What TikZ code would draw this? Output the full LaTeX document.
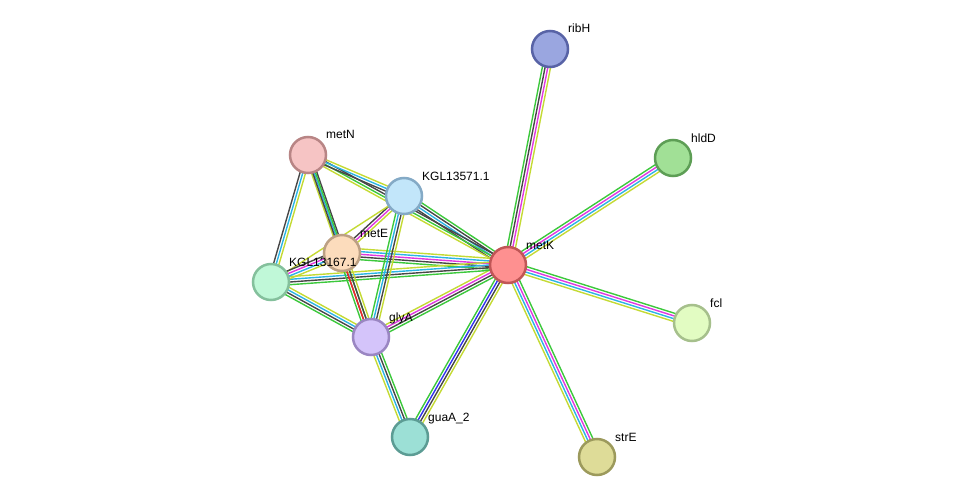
\documentclass[tikz,border=0pt]{standalone}
\usepackage{fontspec}
\setmainfont{Liberation Sans}
\usetikzlibrary{calc}
\pgfdeclarelayer{bg}
\pgfsetlayers{bg,main}
% evidence channels
\definecolor{cnb}{HTML}{3CC83C}
\definecolor{cfu}{HTML}{F02828}
\definecolor{cco}{HTML}{3232F0}
\definecolor{cex}{HTML}{E038E0}
\definecolor{cdb}{HTML}{2CB4E4}
\definecolor{ctm}{HTML}{C4DA34}
\definecolor{ccx}{HTML}{474747}
% gene fills and rims
\definecolor{ribHf}{HTML}{9AA6E0}\definecolor{ribHd}{HTML}{5863A6}
\definecolor{hldDf}{HTML}{A1E096}\definecolor{hldDd}{HTML}{5D9E55}
\definecolor{metNf}{HTML}{F6C4C4}\definecolor{metNd}{HTML}{B88585}
\definecolor{kglAf}{HTML}{C2E6FA}\definecolor{kglAd}{HTML}{84AAC6}
\definecolor{metEf}{HTML}{FCDCBC}\definecolor{metEd}{HTML}{BCA084}
\definecolor{metKf}{HTML}{FE9090}\definecolor{metKd}{HTML}{C05656}
\definecolor{kglBf}{HTML}{C0F8D8}\definecolor{kglBd}{HTML}{84C09C}
\definecolor{glyAf}{HTML}{D4C4FA}\definecolor{glyAd}{HTML}{9A86C2}
\definecolor{fclf}{HTML}{E2FCC2}\definecolor{fcld}{HTML}{A6C08C}
\definecolor{guaAf}{HTML}{9CE0D6}\definecolor{guaAd}{HTML}{5C9C94}
\definecolor{strEf}{HTML}{DEDC98}\definecolor{strEd}{HTML}{9C9A5C}
\tikzset{
  gene/.style={circle,minimum size=36pt,inner sep=0pt,line width=2.5pt,fill=#1f,draw=#1d},
  ppline/.style={line width=1.4pt},
  lbl/.style={anchor=base west,inner sep=0pt,font=\fontsize{12}{14}\selectfont}
}
\newcommand\ppedge[3]{%
  \foreach \c [count=\i] in {#3}{\xdef\nlines{\i}}%
  \foreach \c [count=\i] in {#3}{%
    \pgfmathsetmacro\off{((\nlines+1)/2-\i)*2.7}%
    \draw[ppline,\c] ($(#1)!\off pt!90:(#2)$) -- ($(#2)!\off pt!-90:(#1)$);}}
\newcommand\genelabel[2]{%
  \node[lbl] (#1-lbl) at ([shift={(18,-16)}]#1.center) {#2};}
\begin{document}
\begin{tikzpicture}[x=1pt,y=-1pt]
  \path[use as bounding box] (0,0) rectangle (975,503);
  \node[gene=ribH] (ribH) at (550,49) {};
  \node[gene=hldD] (hldD) at (673,158) {};
  \node[gene=metN] (metN) at (308,155) {};
  \node[gene=kglA] (kglA) at (404,196) {};
  \node[gene=metE] (metE) at (342,253) {};
  \node[gene=metK] (metK) at (508,265) {};
  \node[gene=kglB] (kglB) at (271,282) {};
  \node[gene=glyA] (glyA) at (371,337) {};
  \node[gene=fcl] (fcl) at (692,323) {};
  \node[gene=guaA] (guaA) at (410,437) {};
  \node[gene=strE] (strE) at (597,457) {};
  \begin{pgfonlayer}{bg}
    \ppedge{metK}{ribH}{cnb,ccx,cex,ctm}
    \ppedge{metK}{hldD}{cnb,cex,cdb,ctm}
    \ppedge{metK}{fcl}{cnb,cex,cdb,ctm}
    \ppedge{metK}{strE}{cnb,cex,cdb,ctm}
    \ppedge{metK}{guaA}{ctm,ccx,cco,cnb}
    \ppedge{metK}{glyA}{cnb,ccx,cex,ctm}
    \ppedge{metK}{metE}{cnb,ccx,cex,cdb,ctm}
    \ppedge{metK}{kglB}{cnb,ccx,cdb,ctm}
    \ppedge{metK}{kglA}{ccx,cdb,ccx,cnb}
    \ppedge{metK}{metN}{ctm,cnb,ccx}
    \ppedge{metN}{kglA}{ctm,cdb,ccx}
    \ppedge{metN}{metE}{ccx,cdb,ctm}
    \ppedge{metN}{glyA}{cnb,ccx}
    \ppedge{metN}{kglB}{ctm,cdb,ccx}
    \ppedge{kglA}{metE}{ctm,cex,ccx}
    \ppedge{kglA}{kglB}{ctm}
    \ppedge{kglA}{glyA}{ctm,ccx,cdb,cnb}
    \ppedge{metE}{kglB}{ctm,cdb,cex,ccx}
    \ppedge{metE}{glyA}{ctm,ccx,cfu,cnb}
    \ppedge{kglB}{glyA}{ctm,cdb,ccx,cnb}
    \ppedge{glyA}{guaA}{cnb,ccx,cdb,ctm}
  \end{pgfonlayer}
  \genelabel{ribH}{ribH}
  \genelabel{hldD}{hldD}
  \genelabel{metN}{metN}
  \genelabel{kglA}{KGL13571.1}
  \genelabel{metE}{metE}
  \genelabel{metK}{metK}
  \genelabel{kglB}{KGL13167.1}
  \genelabel{glyA}{glyA}
  \genelabel{fcl}{fcl}
  \genelabel{guaA}{guaA\_2}
  \genelabel{strE}{strE}
\end{tikzpicture}
\end{document}
